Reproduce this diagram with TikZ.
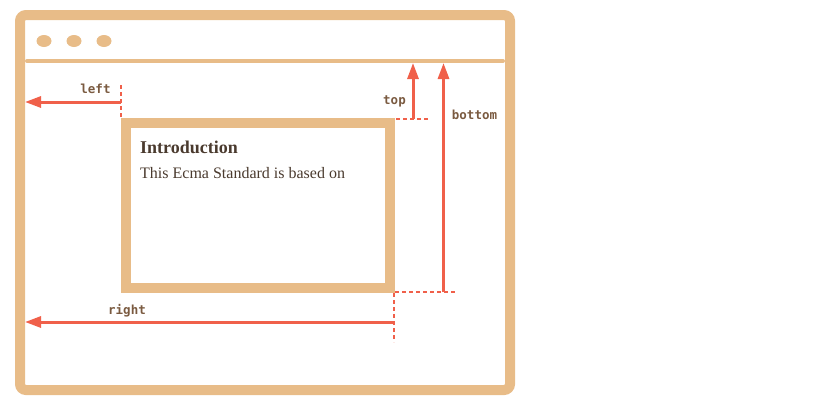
\documentclass[tikz,border=0pt]{standalone}
\usepackage{fontspec}
\setmainfont{Liberation Serif}
\newfontfamily\labelfont{DejaVu Sans Mono}
\usetikzlibrary{arrows.meta}
\definecolor{tan}{HTML}{E8BC88}
\definecolor{redline}{HTML}{F0604A}
\definecolor{darkbrown}{HTML}{4A3A2E}
\definecolor{labelbrown}{HTML}{7A5A40}
\tikzset{
    frame/.style={draw=tan, line width=10pt, inner sep=0pt},
    marker/.style={draw=redline, line width=3pt, -{Triangle[length=16pt, width=11pt]}},
    guide/.style={draw=redline, line width=2pt, dash pattern=on 4pt off 3pt},
    lbl/.style={text=labelbrown, font=\labelfont\bfseries\fontsize{12.5}{14}\selectfont}
}
\begin{document}
\begin{tikzpicture}[x=1pt, y=1pt]
        \useasboundingbox (0, 0) rectangle (832, -402);
        \node[frame, rounded corners=6pt, minimum width=490pt, minimum height=375pt] (win) at (265, -202.5) {};
        \draw[tan, line width=4pt, line cap=round] (27, -61) -- (503, -61);
        \foreach \x in {44, 74, 104}
            \fill[tan] (\x, -41) ellipse (7.5 and 6);
        
        \node[frame, minimum width=264pt, minimum height=165pt] (elem) at (257.5, -205.5) {};
        \node[anchor=base west, inner sep=0pt, text=darkbrown, font=\bfseries\fontsize{18}{20}\selectfont] (title) at (140, -153.5) {Introduction};
        \node[anchor=base west, inner sep=0pt, text=darkbrown, font=\fontsize{16}{18}\selectfont] (body) at (140, -178.5) {This Ecma Standard is based on};
        
        % left
        \coordinate (lefttop) at (120.5, -85);
        \coordinate (leftbox) at (120.5, -118);
        \coordinate (leftstart) at (120.5, -102);
        \coordinate (leftend) at (25, -102);
        \draw[guide] (lefttop) -- (leftbox);
        \draw[marker] (leftstart) -- (leftend);
        \node[lbl] (leftlbl) at (95.5, -88.5) {left};
        
        % top
        \coordinate (topa) at (396, -118.5);
        \coordinate (topb) at (429, -118.5);
        \coordinate (topstart) at (413, -118.5);
        \coordinate (topend) at (413, -63);
        \draw[guide] (topa) -- (topb);
        \draw[marker] (topstart) -- (topend);
        \node[lbl] (toplbl) at (394.5, -101) {top};
        
        % bottom
        \coordinate (bota) at (395, -292);
        \coordinate (botb) at (456, -292);
        \coordinate (botstart) at (443.5, -292);
        \coordinate (botend) at (443.5, -63);
        \draw[guide] (bota) -- (botb);
        \draw[marker] (botstart) -- (botend);
        \node[lbl] (botlbl) at (474.5, -115) {bottom};
        
        % right
        \coordinate (righta) at (394, -293);
        \coordinate (rightb) at (394, -342);
        \coordinate (rightstart) at (394, -322);
        \coordinate (rightend) at (25, -322);
        \draw[guide] (righta) -- (rightb);
        \draw[marker] (rightstart) -- (rightend);
        \node[lbl] (rightlbl) at (127, -310.5) {right};
    \end{tikzpicture}
\end{document}
